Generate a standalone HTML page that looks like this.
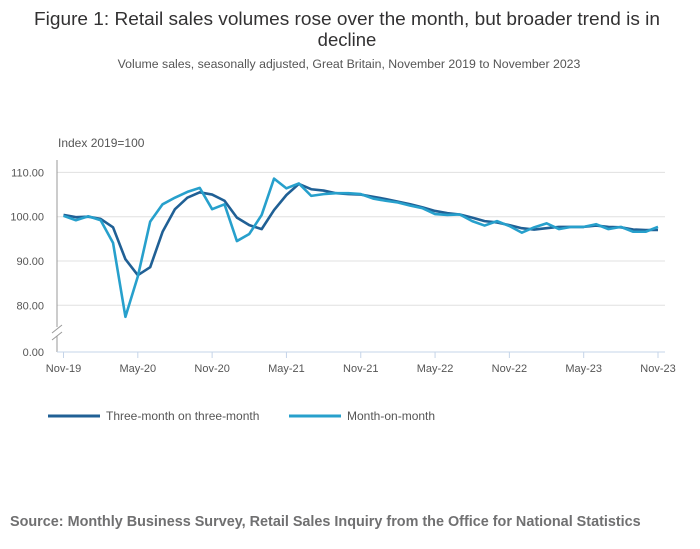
<!DOCTYPE html>
<html><head><meta charset="utf-8"><style>
body{margin:0;background:#fff;font-family:"Liberation Sans",sans-serif;}
#wrap{position:relative;width:700px;height:549px;overflow:hidden}
</style></head><body>
<div id="wrap">
<svg id="svg" width="700" height="549" xmlns="http://www.w3.org/2000/svg">
<text x="347" y="25" text-anchor="middle" font-size="18" fill="#323132" textLength="626" lengthAdjust="spacingAndGlyphs">Figure 1: Retail sales volumes rose over the month, but broader trend is in</text>
<text x="347" y="46" text-anchor="middle" font-size="18.5" fill="#323132">decline</text>
<text x="349" y="68" text-anchor="middle" font-size="12.3" fill="#555">Volume sales, seasonally adjusted, Great Britain, November 2019 to November 2023</text>
<text x="58" y="147" font-size="12" fill="#555">Index 2019=100</text>
<g id="grid"></g><g id="axes"></g><g id="series"></g>
<g>
<line x1="48" y1="416" x2="100" y2="416" stroke="#206095" stroke-width="3"/>
<text x="106" y="420" font-size="12" fill="#555">Three-month on three-month</text>
<line x1="289" y1="416" x2="341" y2="416" stroke="#27a0cc" stroke-width="3"/>
<text x="347" y="420" font-size="12" fill="#555">Month-on-month</text>
</g>
<text x="10" y="526" font-size="14.4" font-weight="bold" fill="#707071">Source: Monthly Business Survey, Retail Sales Inquiry from the Office for National Statistics</text>
</svg></div>
<script>
const tickLabels=["Nov-19","May-20","Nov-20","May-21","Nov-21","May-22","Nov-22","May-23","Nov-23"];
const yTicks=[80,90,100,110];
const threeMonth=[100.4,99.9,100,99.5,97.6,90.4,86.8,88.6,96.6,101.7,104.3,105.5,105,103.6,99.8,98.1,97.2,101.5,104.9,107.4,106.2,105.9,105.3,105.1,105,104.5,104,103.4,102.8,102.1,101.3,100.8,100.5,99.8,99,98.7,98.1,97.4,97.1,97.4,97.7,97.7,97.7,98,97.7,97.6,97.1,97,97];
const monthOnMonth=[100.2,99.2,100.1,99.2,94.1,77.4,86.5,98.9,102.8,104.3,105.6,106.5,101.7,102.8,94.5,96.1,100.4,108.6,106.4,107.5,104.7,105.1,105.3,105.3,105.1,104.1,103.6,103.2,102.5,101.9,100.6,100.4,100.5,99,98,99,97.9,96.4,97.6,98.5,97.2,97.7,97.7,98.3,97.2,97.7,96.6,96.6,97.7];
const NS="http://www.w3.org/2000/svg";
const xs=i=>63.5+i*(658-63.5)/48;
const ys=v=>216.7-(v-100)*4.43;
function mk(t,a,p){const e=document.createElementNS(NS,t);for(const k in a)e.setAttribute(k,a[k]);p.appendChild(e);return e;}
const grid=document.getElementById('grid'),axes=document.getElementById('axes'),ser=document.getElementById('series');
yTicks.forEach(v=>{
 const l=mk('line',{x1:57,x2:665,y1:ys(v),y2:ys(v),stroke:'#e0e0e0','stroke-width':1},grid);
 
 
 const t=mk('text',{x:44,y:ys(v)+4,'text-anchor':'end','font-size':11,fill:'#555'},grid);t.textContent=v.toFixed(2);
 
 
});
const z=mk('text',{x:44,y:356,'text-anchor':'end','font-size':11,fill:'#555'},axes);z.textContent="0.00";


mk('line',{x1:57,x2:57,y1:160,y2:327,stroke:'#999','stroke-width':1},axes);
mk('line',{x1:57,x2:57,y1:336,y2:352,stroke:'#999','stroke-width':1},axes);
mk('line',{x1:52,x2:62,y1:333,y2:325,stroke:'#999','stroke-width':1},axes);
mk('line',{x1:52,x2:62,y1:340,y2:332,stroke:'#999','stroke-width':1},axes);
const xa=mk('line',{x1:57,x2:665,y1:352,y2:352,stroke:'#c5d4e8','stroke-width':1},axes);


tickLabels.forEach((s,k)=>{const x=xs(k*6);
 mk('line',{x1:x,x2:x,y1:352,y2:358,stroke:'#c5d4e8'},axes);
 const t=mk('text',{x:x,y:372,'text-anchor':'middle','font-size':11,fill:'#555'},axes);t.textContent=s;
 
 
});
function line(d,c,n){const p=mk('polyline',{points:d.map((v,i)=>xs(i)+','+ys(v)).join(' '),fill:'none',stroke:c,'stroke-width':2.6,'stroke-linejoin':'round'},ser);
 
 }
line(threeMonth,'#206095','line-three-month');
line(monthOnMonth,'#27a0cc','line-month-on-month');
</script>
</body></html>
